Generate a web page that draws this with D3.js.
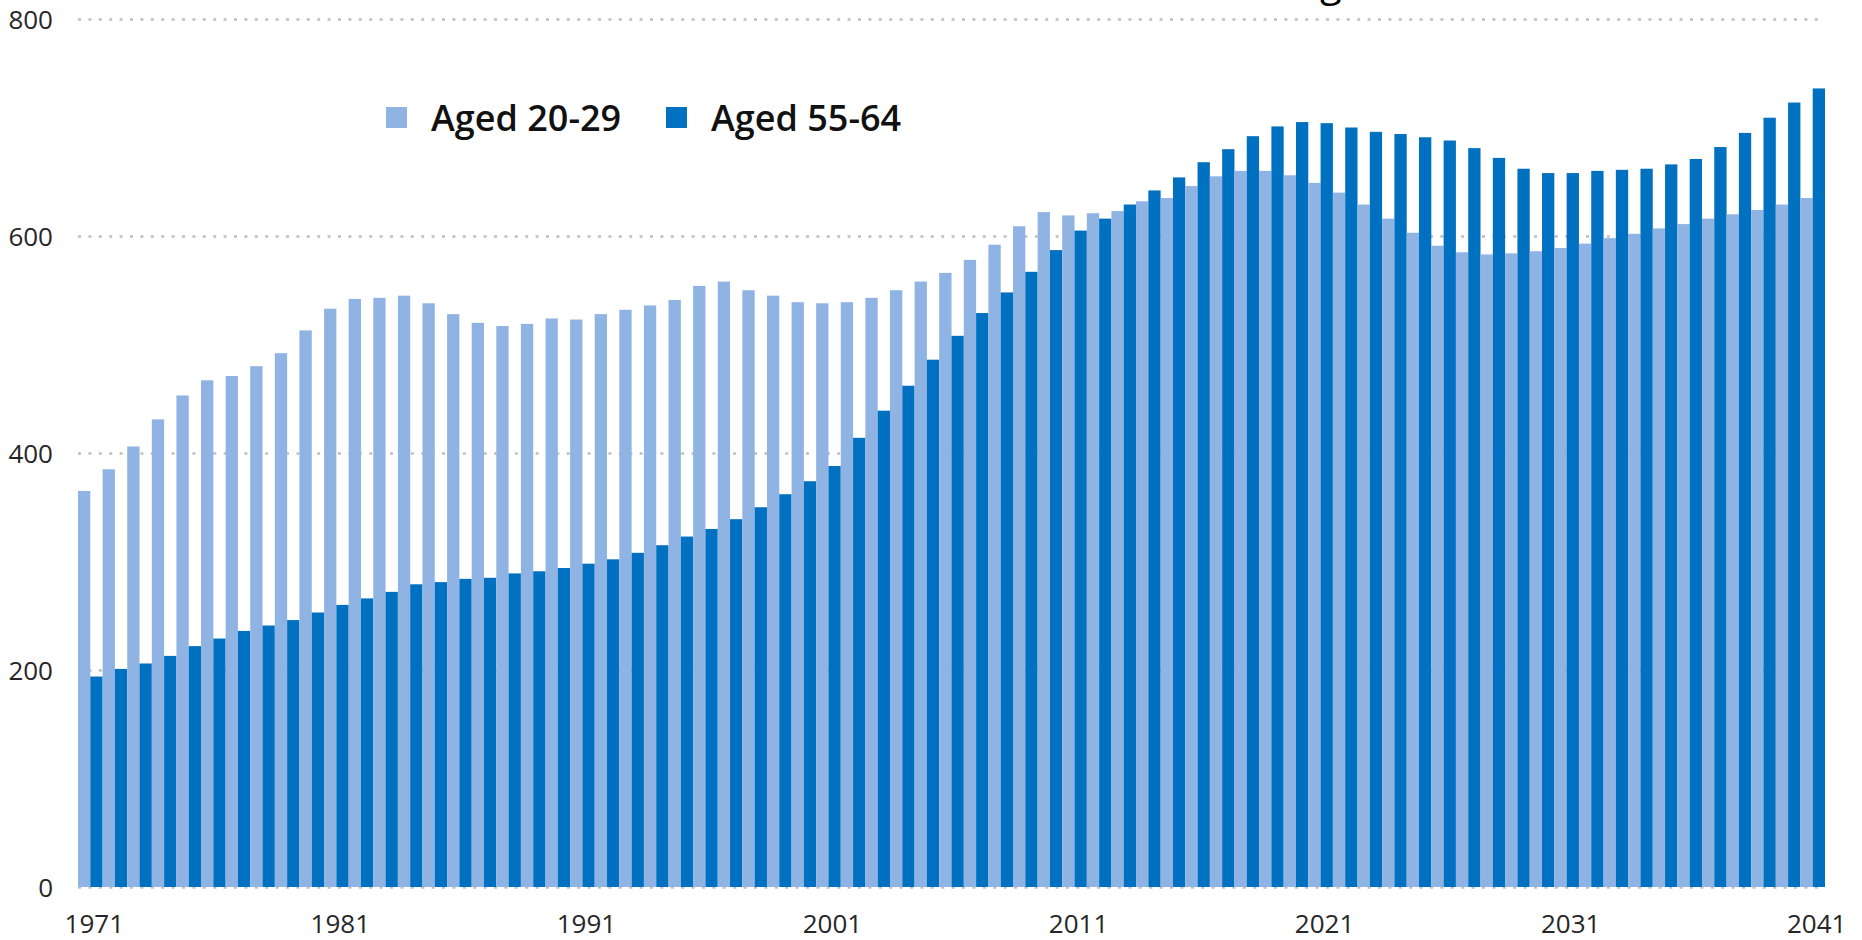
<!DOCTYPE html>
<html>
<head>
<meta charset="utf-8">
<script src="https://cdn.jsdelivr.net/npm/d3@7"></script>
<style>
body { margin:0; background:#fff; }
svg { display:block; font-family:"Open Sans", sans-serif; }
.axis text { font-family:"Open Sans", sans-serif; font-size:26px; fill:#262626; }
.axis .domain { display:none; }
.grid line { stroke:#bfbfbf; stroke-width:2.5; stroke-dasharray:3,7.4; }
.legend text { font-family:"Open Sans", sans-serif; font-size:36px; font-weight:600; fill:#111; }
</style>
</head>
<body>
<div id="chart"></div>
<script>
var years = d3.range(1971, 2042);
var tickYears = [1971, 1981, 1991, 2001, 2011, 2021, 2031, 2041];
var yTicks = [0, 200, 400, 600, 800];
var seriesNames = ["Aged 20-29", "Aged 55-64"];
var seriesColors = ["#8fb4e3", "#0070c0"];

// aged 20-29, 1971..2041
var aged2029 = [365,385,406,431,453,467,471,480,492,513,
    533,542,543,545,538,528,520,517,519,524,
    523,528,532,536,541,554,558,550,545,539,
    538,539,543,550,558,566,578,592,609,622,
    619,621,623,632,635,646,655,660,660,656,
    649,640,629,616,603,591,585,583,584,586,
    589,593,598,602,607,611,616,620,624,629,635];

// aged 55-64, 1971..2041
var aged5564 = [194,201,206,213,222,229,236,241,246,253,
    260,266,272,279,281,284,285,289,291,294,
    298,302,308,315,323,330,339,350,362,374,
    388,414,439,462,486,508,529,548,567,587,
    605,616,629,642,654,668,680,692,701,705,
    704,700,696,694,691,688,681,672,662,658,
    658,660,661,662,666,671,682,695,709,723,736];

var W = 1862, H = 940;
var margin = {t:19, r:37, b:53, l:78};
var width = W - margin.l - margin.r,
    height = H - margin.t - margin.b;

var svg = d3.select("#chart")
    .append("svg")
    .attr("width", W)
    .attr("height", H);

var plot = svg.append("g")
    .attr("transform", "translate(" + margin.l + "," + margin.t + ")");

var scaleX = d3.scaleBand().domain(years).range([0, width]).padding(0);
var scaleSub = d3.scaleBand().domain([0, 1]).range([0, scaleX.bandwidth()]).padding(0);
var scaleY = d3.scaleLinear().domain([0, 800]).range([height, 0]);

// dotted gridlines
plot.append("g")
    .attr("class", "axis grid")
    .call(d3.axisLeft(scaleY).tickValues(yTicks).tickSize(-width).tickPadding(25))
    .attr("font-family", null)
    .selectAll("text")
    .attr("dy", "0.35em");

var data = years.map(function(y, i){
    return {year:y, values:[aged2029[i], aged5564[i]]};
});

var groups = plot.selectAll(".year")
    .data(data)
    .enter()
    .append("g")
    .attr("class", "year")
    .attr("transform", function(d){ return "translate(" + scaleX(d.year) + ",0)"; });

groups.selectAll("rect")
    .data(function(d){ return d.values.map(function(v, k){ return {k:k, v:v}; }); })
    .enter()
    .append("rect")
    .attr("x", function(d){ return scaleSub(d.k); })
    .attr("width", scaleSub.bandwidth())
    .attr("y", function(d){ return scaleY(d.v); })
    .attr("height", function(d){ return height - scaleY(d.v); })
    .attr("fill", function(d){ return seriesColors[d.k]; });

plot.append("g")
    .attr("class", "axis axis--x")
    .attr("transform", "translate(0," + height + ")")
    .call(d3.axisBottom(scaleX).tickValues(tickYears).tickSize(0).tickPadding(28))
    .attr("font-family", null)
    .selectAll("text")
    .attr("dx", 4);

// legend
var legend = svg.append("g").attr("class", "legend");
var legendX = [386, 666];
seriesNames.forEach(function(name, i){
    legend.append("rect")
        .attr("x", legendX[i])
        .attr("y", 107)
        .attr("width", 21)
        .attr("height", 21)
        .attr("fill", seriesColors[i]);
    legend.append("text")
        .attr("x", legendX[i] + 45)
        .attr("y", 131)
        .text(name);
});

// title, mostly above the visible area
svg.append("text")
    .attr("x", 1320)
    .attr("y", -4)
    .attr("font-size", 40)
    .attr("fill", "#000")
    .text("g");
</script>
</body>
</html>
